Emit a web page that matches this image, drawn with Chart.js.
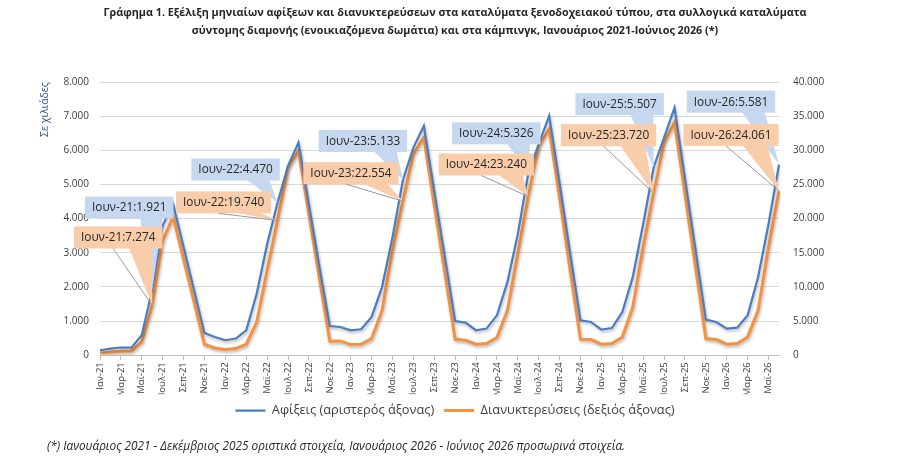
<!DOCTYPE html>
<html>
<head>
<meta charset="utf-8">
<script src="https://cdn.jsdelivr.net/npm/chart.js@4.4.1/dist/chart.umd.min.js"></script>
<style>
html,body{margin:0;padding:0;background:#fff;}
#wrap{width:910px;height:463px;position:relative;}
</style>
</head>
<body>
<div id="wrap"><canvas id="c" width="910" height="463"></canvas></div>
<script>
const labels = [
 'Ιαν-21','Φεβ-21','Μαρ-21','Απρ-21','Μαϊ-21','Ιουν-21','Ιουλ-21','Αυγ-21','Σεπ-21','Οκτ-21','Νοε-21','Δεκ-21',
 'Ιαν-22','Φεβ-22','Μαρ-22','Απρ-22','Μαϊ-22','Ιουν-22','Ιουλ-22','Αυγ-22','Σεπ-22','Οκτ-22','Νοε-22','Δεκ-22',
 'Ιαν-23','Φεβ-23','Μαρ-23','Απρ-23','Μαϊ-23','Ιουν-23','Ιουλ-23','Αυγ-23','Σεπ-23','Οκτ-23','Νοε-23','Δεκ-23',
 'Ιαν-24','Φεβ-24','Μαρ-24','Απρ-24','Μαϊ-24','Ιουν-24','Ιουλ-24','Αυγ-24','Σεπ-24','Οκτ-24','Νοε-24','Δεκ-24',
 'Ιαν-25','Φεβ-25','Μαρ-25','Απρ-25','Μαϊ-25','Ιουν-25','Ιουλ-25','Αυγ-25','Σεπ-25','Οκτ-25','Νοε-25','Δεκ-25',
 'Ιαν-26','Φεβ-26','Μαρ-26','Απρ-26','Μαϊ-26','Ιουν-26'
];
// Αφίξεις (χιλιάδες) - αριστερός άξονας
const arrivals = [
 146,190,225,222,584,1921,3795,4428,3172,1918,652,535,
 438,487,730,1800,3260,4470,5547,6228,4400,2600,856,827,
 730,759,1120,1995,3455,5133,6082,6716,4812,2905,1002,955,
 730,779,1168,2140,3553,5326,6180,7008,5030,3000,1022,973,
 750,797,1265,2287,3846,5507,6375,7250,5180,3110,1042,973,
 779,808,1168,2287,3846,5581
];
// Διανυκτερεύσεις (χιλιάδες) - δεξιός άξονας
const overnights = [
 340,480,584,630,1944,7274,16788,20292,14060,7840,1606,1066,
 832,978,1606,4862,12410,19740,27490,29927,20590,11290,2044,2093,
 1560,1606,2430,6570,15330,22554,29450,31870,21970,12160,2336,2190,
 1606,1703,2580,6570,14848,23240,30660,33090,22970,12460,2336,2287,
 1606,1703,2677,7056,15810,23720,31150,34070,23520,12980,2433,2287,
 1606,1703,2677,6570,15810,24061
];
const seriesNames = ['Αφίξεις (αριστερός άξονας)', 'Διανυκτερεύσεις (δεξιός άξονας)'];
const leftTicks = [0,1000,2000,3000,4000,5000,6000,7000,8000];
const rightTicks = [0,5000,10000,15000,20000,25000,30000,35000,40000];
const calloutIdx = [5,17,29,41,53,65];
const titleLines = [
 'Γράφημα 1. Εξέλιξη μηνιαίων αφίξεων και διανυκτερεύσεων στα καταλύματα ξενοδοχειακού τύπου, στα συλλογικά καταλύματα',
 'σύντομης διαμονής (ενοικιαζόμενα δωμάτια) και στα κάμπινγκ, Ιανουάριος 2021-Ιούνιος 2026 (*)'
];
const footnote = '(*) Ιανουάριος 2021 - Δεκέμβριος 2025 οριστικά στοιχεία, Ιανουάριος 2026 - Ιούνιος 2026 προσωρινά στοιχεία.';
const axisTitle = 'Σε χιλιάδες';

// callout box offsets (style, px from the point)
const blueOff = [[-23,-82],[-42,-33],[-40,-39],[-32,-40],[-34,-63],[-48,-63]];
const orangeOff = [[-34,-68],[-54,-18],[-52,-28],[-42,-32],[-45,-58],[-48,-56]];

const FONT = "'Open Sans', 'DejaVu Sans', sans-serif";
const fmt = v => String(v).replace(/\B(?=(\d{3})+(?!\d))/g, '.');

const shadowPlugin = {
  id: 'shadow',
  beforeDatasetDraw(chart, args) {
    const ctx = chart.ctx; ctx.save();
    ctx.shadowColor = 'rgba(0,0,0,0.28)'; ctx.shadowBlur = 3; ctx.shadowOffsetX = 1; ctx.shadowOffsetY = 2;
  },
  afterDatasetDraw(chart) { chart.ctx.restore(); }
};

const calloutPlugin = {
  id: 'callouts',
  afterDatasetsDraw(chart) {
    const ctx = chart.ctx;
    const draw = (dsIndex, offs, fill, withLine) => {
      const meta = chart.getDatasetMeta(dsIndex);
      const data = chart.data.datasets[dsIndex].data;
      calloutIdx.forEach((idx, k) => {
        const p = meta.data[idx];
        const px = p.x, py = p.y;
        const text = labels[idx] + ':' + fmt(data[idx]);
        ctx.save();
        ctx.font = '11.8px ' + FONT;
        const tw = ctx.measureText(text).width;
        const w = tw + 14, h = 22;
        const cx = px + offs[k][0], cy = py + offs[k][1];
        const x0 = cx - w/2, y0 = cy - h/2;
        const b1 = px > cx ? cx + w*0.12 : cx - w*0.35;
        const b2 = px > cx ? cx + w*0.38 : cx - w*0.1;
        ctx.fillStyle = fill;
        ctx.beginPath();
        ctx.moveTo(b1, y0 + h - 1);
        ctx.lineTo(b2, y0 + h - 1);
        ctx.lineTo(px, py);
        ctx.closePath();
        ctx.fill();
        ctx.fillRect(x0, y0, w, h);
        if (withLine) {
          ctx.strokeStyle = '#9a9a9a'; ctx.lineWidth = 1;
          ctx.beginPath(); ctx.moveTo(cx - 5, y0 + h); ctx.lineTo(px, py); ctx.stroke();
        }
        ctx.fillStyle = '#262626';
        ctx.textAlign = 'center'; ctx.textBaseline = 'middle';
        ctx.fillText(text, cx, cy + 0.5);
        ctx.restore();
      });
    };
    draw(0, blueOff, '#C6D8EF', false);
    draw(1, orangeOff, '#F9CCAA', true);
  }
};

const footPlugin = {
  id: 'foot',
  afterDraw(chart) {
    const ctx = chart.ctx; ctx.save();
    ctx.font = 'italic 11.8px ' + FONT; ctx.fillStyle = '#262626';
    ctx.textBaseline = 'middle'; ctx.textAlign = 'left';
    ctx.fillText(footnote, 47, 447);
    ctx.restore();
  }
};

new Chart(document.getElementById('c'), {
  type: 'line',
  data: {
    labels: labels,
    datasets: [
      { label: seriesNames[0], data: arrivals, yAxisID: 'y', borderColor: '#4A7CC2', backgroundColor: '#4A7CC2', borderWidth: 2.2, pointRadius: 0, tension: 0 },
      { label: seriesNames[1], data: overnights, yAxisID: 'y1', borderColor: '#F5913F', backgroundColor: '#F5913F', borderWidth: 3, pointRadius: 0, tension: 0 }
    ]
  },
  options: {
    responsive: false, animation: false, devicePixelRatio: 1,
    layout: { padding: { left: 0, right: 0, top: 0, bottom: 36 } },
    plugins: {
      tooltip: { enabled: false },
      title: { display: true, text: titleLines, color: '#262626', font: { family: FONT, size: 10.8, weight: 'bold', lineHeight: 1.67 }, padding: { top: 4, bottom: 42 } },
      legend: { position: 'bottom', labels: { usePointStyle: true, pointStyle: 'line', pointStyleWidth: 30, color: '#404040', font: { family: FONT, size: 12.8 }, padding: 10 } }
    },
    scales: {
      x: {
        offset: false,
        grid: { drawOnChartArea: false, drawTicks: true, tickLength: 5, color: ctx => (ctx.index % 2 === 0 ? '#BFBFBF' : 'rgba(0,0,0,0)') },
        border: { display: true, color: '#BFBFBF' },
        ticks: { autoSkip: false, maxRotation: 90, minRotation: 90, color: '#404040', font: { family: FONT, size: 9.5 }, padding: 2,
                 callback: (v, i) => (i % 2 === 0 ? labels[i] : '') },
        afterFit: s => { s.height = 39; }
      },
      y: {
        position: 'left', min: 0, max: 8000,
        afterBuildTicks: s => { s.ticks = leftTicks.map(v => ({ value: v })); },
        grid: { color: '#D9D9D9', drawTicks: false, lineWidth: 1 },
        border: { display: false },
        ticks: { color: '#404040', font: { family: FONT, size: 10 }, padding: 11, callback: v => fmt(v) },
        title: { display: true, text: axisTitle, align: 'end', color: '#2F5597', font: { family: FONT, size: 10.5 }, padding: { top: 39, bottom: 0 } },
        afterFit: s => { s.width = 100; }
      },
      y1: {
        position: 'right', min: 0, max: 40000,
        afterBuildTicks: s => { s.ticks = rightTicks.map(v => ({ value: v })); },
        grid: { drawOnChartArea: false, drawTicks: false },
        border: { display: false },
        ticks: { color: '#404040', font: { family: FONT, size: 10 }, padding: 14, callback: v => fmt(v) },
        afterFit: s => { s.width = 131; }
      }
    }
  },
  plugins: [shadowPlugin, calloutPlugin, footPlugin]
});
</script>
</body>
</html>
